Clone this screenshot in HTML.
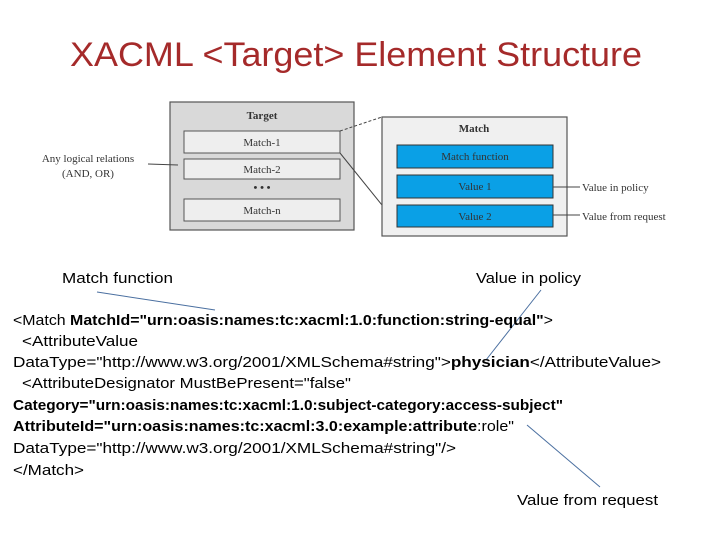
<!DOCTYPE html>
<html><head><meta charset="utf-8"><style>
html,body{margin:0;padding:0;background:#fff;}
svg{display:block;}
.s{font-family:"Liberation Serif",serif;font-size:11px;fill:#333;}
.c{font-family:"Liberation Sans",sans-serif;font-size:15px;fill:#000;}
</style></head><body>
<svg width="720" height="540" viewBox="0 0 720 540" xmlns="http://www.w3.org/2000/svg">
<text x="356" y="66" text-anchor="middle" font-family="Liberation Sans, sans-serif" font-size="34" fill="#a52a2a" textLength="572" lengthAdjust="spacingAndGlyphs">XACML &lt;Target&gt; Element Structure</text>

<!-- Target box -->
<rect x="170" y="102" width="184" height="128" fill="#d9d9d9" stroke="#555" stroke-width="1.2"/>
<text x="262" y="119" text-anchor="middle" class="s" font-weight="bold" font-size="12">Target</text>
<rect x="184" y="131" width="156" height="22" fill="#eeeeee" stroke="#555"/>
<text x="262" y="146" text-anchor="middle" class="s">Match-1</text>
<rect x="184" y="159" width="156" height="20" fill="#eeeeee" stroke="#555"/>
<text x="262" y="173" text-anchor="middle" class="s">Match-2</text>
<text x="262" y="191" text-anchor="middle" class="s" font-weight="bold">• • •</text>
<rect x="184" y="199" width="156" height="22" fill="#eeeeee" stroke="#555"/>
<text x="262" y="214" text-anchor="middle" class="s">Match-n</text>

<text x="88" y="162" text-anchor="middle" class="s" font-size="12">Any logical relations</text>
<text x="88" y="177" text-anchor="middle" class="s" font-size="12">(AND, OR)</text>
<line x1="148" y1="164" x2="178" y2="165" stroke="#444"/>

<line x1="340" y1="131" x2="382" y2="117" stroke="#444" stroke-dasharray="3,2"/>
<line x1="340" y1="153" x2="382" y2="205" stroke="#444"/>

<!-- Match box -->
<rect x="382" y="117" width="185" height="119" fill="#f0f0f0" stroke="#555" stroke-width="1.2"/>
<text x="474" y="132" text-anchor="middle" class="s" font-weight="bold" font-size="12">Match</text>
<rect x="397" y="145" width="156" height="23" fill="#0aa0e6" stroke="#333"/>
<text x="475" y="160" text-anchor="middle" class="s">Match function</text>
<rect x="397" y="175" width="156" height="23" fill="#0aa0e6" stroke="#333"/>
<text x="475" y="190" text-anchor="middle" class="s">Value 1</text>
<rect x="397" y="205" width="156" height="22" fill="#0aa0e6" stroke="#333"/>
<text x="475" y="220" text-anchor="middle" class="s">Value 2</text>
<line x1="553" y1="187" x2="580" y2="187" stroke="#444"/>
<line x1="553" y1="215" x2="580" y2="215" stroke="#444"/>
<text x="582" y="191" class="s" font-size="12">Value in policy</text>
<text x="582" y="220" class="s" font-size="12">Value from request</text>

<!-- code labels -->
<text x="62" y="283" class="c" textLength="111" lengthAdjust="spacingAndGlyphs">Match function</text>
<text x="476" y="283" class="c" textLength="105" lengthAdjust="spacingAndGlyphs">Value in policy</text>
<text x="517" y="505" class="c" textLength="141" lengthAdjust="spacingAndGlyphs">Value from request</text>
<line x1="97" y1="292" x2="215" y2="310" stroke="#4a6fa0"/>
<line x1="541" y1="290" x2="486" y2="360" stroke="#4a6fa0"/>
<line x1="527" y1="425" x2="600" y2="487" stroke="#4a6fa0"/>

<text x="13" y="325" class="c" textLength="540" lengthAdjust="spacingAndGlyphs">&lt;Match <tspan font-weight="bold">MatchId="urn:oasis:names:tc:xacml:1.0:function:string-equal"</tspan>&gt;</text>
<text x="22" y="346" class="c" textLength="116" lengthAdjust="spacingAndGlyphs">&lt;AttributeValue</text>
<text x="13" y="367" class="c" textLength="648" lengthAdjust="spacingAndGlyphs">DataType="http://www.w3.org/2001/XMLSchema#string"&gt;<tspan font-weight="bold">physician</tspan>&lt;/AttributeValue&gt;</text>
<text x="22" y="388" class="c" textLength="329" lengthAdjust="spacingAndGlyphs">&lt;AttributeDesignator MustBePresent="false"</text>
<text x="13" y="410" class="c" font-weight="bold" textLength="550" lengthAdjust="spacingAndGlyphs">Category="urn:oasis:names:tc:xacml:1.0:subject-category:access-subject"</text>
<text x="13" y="431" class="c" textLength="501" lengthAdjust="spacingAndGlyphs"><tspan font-weight="bold">AttributeId="urn:oasis:names:tc:xacml:3.0:example:attribute</tspan>:role"</text>
<text x="13" y="453" class="c" textLength="443" lengthAdjust="spacingAndGlyphs">DataType="http://www.w3.org/2001/XMLSchema#string"/&gt;</text>
<text x="13" y="475" class="c" textLength="71" lengthAdjust="spacingAndGlyphs">&lt;/Match&gt;</text>
</svg>
</body></html>
